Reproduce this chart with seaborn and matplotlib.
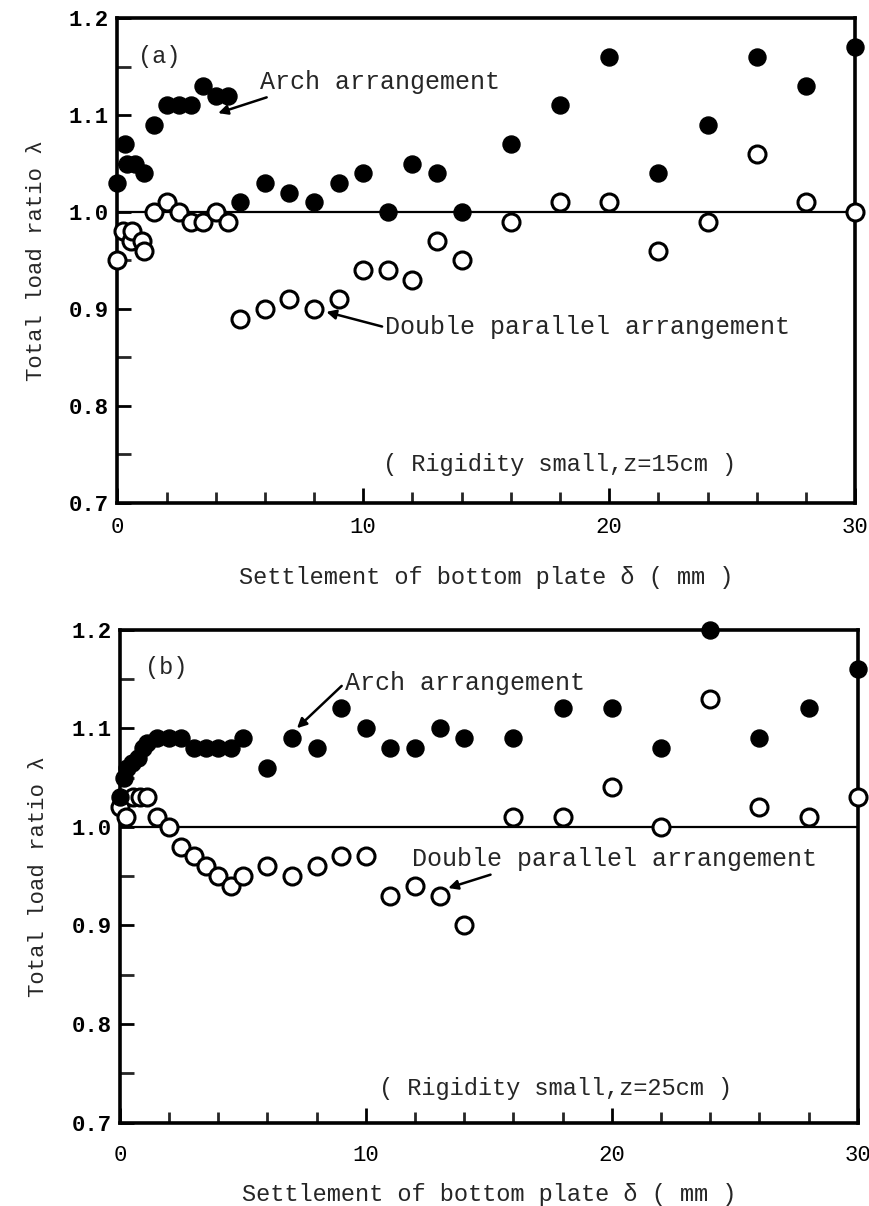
import numpy as np
import pandas as pd
import matplotlib
matplotlib.use("Agg")
import matplotlib.pyplot as plt
import seaborn as sns
from matplotlib.ticker import MultipleLocator

# ---------------- data ----------------
a_filled_x = [0, 0.3, 0.4, 0.7, 1.1, 1.5, 2.0, 2.5, 3.0, 3.5, 4.0, 4.5, 5, 6, 7, 8, 9, 10,
              11, 12, 13, 14, 16, 18, 20, 22, 24, 26, 28, 30]
a_filled_y = [1.03, 1.07, 1.05, 1.05, 1.04, 1.09, 1.11, 1.11, 1.11, 1.13, 1.12, 1.12, 1.01,
              1.03, 1.02, 1.01, 1.03, 1.04, 1.00, 1.05, 1.04, 1.00, 1.07, 1.11, 1.16, 1.04,
              1.09, 1.16, 1.13, 1.17]
a_open_x = [0, 0.25, 0.55, 0.6, 1.0, 1.1, 1.5, 2.0, 2.5, 3.0, 3.5, 4.0, 4.5, 5, 6, 7, 8, 9,
            10, 11, 12, 13, 14, 16, 18, 20, 22, 24, 26, 28, 30]
a_open_y = [0.95, 0.98, 0.97, 0.98, 0.97, 0.96, 1.00, 1.01, 1.00, 0.99, 0.99, 1.00, 0.99,
            0.89, 0.90, 0.91, 0.90, 0.91, 0.94, 0.94, 0.93, 0.97, 0.95, 0.99, 1.01, 1.01,
            0.96, 0.99, 1.06, 1.01, 1.00]

b_filled_x = [0, 0.15, 0.3, 0.5, 0.75, 0.95, 1.1, 1.5, 2.0, 2.5, 3.0, 3.5, 4.0, 4.5, 5, 6, 7,
              8, 9, 10, 11, 12, 13, 14, 16, 18, 20, 22, 24, 26, 28, 30]
b_filled_y = [1.03, 1.05, 1.06, 1.065, 1.07, 1.08, 1.085, 1.09, 1.09, 1.09, 1.08, 1.08, 1.08,
              1.08, 1.09, 1.06, 1.09, 1.08, 1.12, 1.10, 1.08, 1.08, 1.10, 1.09, 1.09, 1.12,
              1.12, 1.08, 1.20, 1.09, 1.12, 1.16]
b_open_x = [0, 0.25, 0.55, 0.8, 1.1, 1.5, 2.0, 2.5, 3.0, 3.5, 4.0, 4.5, 5, 6, 7, 8, 9, 10,
            11, 12, 13, 14, 16, 18, 20, 22, 24, 26, 28, 30]
b_open_y = [1.02, 1.01, 1.03, 1.03, 1.03, 1.01, 1.00, 0.98, 0.97, 0.96, 0.95, 0.94, 0.95,
            0.96, 0.95, 0.96, 0.97, 0.97, 0.93, 0.94, 0.93, 0.90, 1.01, 1.01, 1.04, 1.00,
            1.13, 1.02, 1.01, 1.03]

y_ticks = [0.7, 0.8, 0.9, 1.0, 1.1, 1.2]
x_ticks = [0, 10, 20, 30]
panel_labels = ["(a)", "(b)"]
conditions = ["( Rigidity small,z=15cm )", "( Rigidity small,z=25cm )"]
xlabel = "Settlement of bottom plate \u03b4 ( mm )"
ylabel = "Total load ratio \u03bb"

# ---------------- style ----------------
sns.set_style("ticks")
plt.rcParams["font.family"] = ["Liberation Mono", "DejaVu Sans Mono", "DejaVu Sans"]
plt.rcParams["axes.linewidth"] = 2.6

fig = plt.figure(figsize=(8.69, 12.06), dpi=100)
ax_a = fig.add_axes([0.135, 0.583, 0.849, 0.402])
ax_b = fig.add_axes([0.138, 0.069, 0.849, 0.409])

MS = 150


def draw_panel(ax, fx, fy, ox, oy, xpad, xlabpad):
    ax.axhline(1.0, color="black", lw=1.6, zorder=1)
    sns.scatterplot(x=ox, y=oy, ax=ax, marker="o", s=MS, facecolor="white",
                    edgecolor="black", linewidth=2.2, zorder=3)
    ax.collections[-1].set_clip_on(False)
    sns.scatterplot(x=fx, y=fy, ax=ax, marker="o", s=MS, color="black",
                    edgecolor="black", linewidth=1, zorder=4)
    ax.collections[-1].set_clip_on(False)
    ax.set_xlim(0, 30)
    ax.set_ylim(0.7, 1.2)
    ax.set_xticks(x_ticks)
    ax.set_yticks(y_ticks)
    ax.set_yticklabels([f"{v:.1f}" for v in y_ticks], fontweight="bold")
    ax.xaxis.set_minor_locator(MultipleLocator(2))
    ax.yaxis.set_minor_locator(MultipleLocator(0.05))
    ax.tick_params(axis="both", which="major", direction="in", length=11, width=2,
                   labelsize=16, color="black", labelcolor="black")
    ax.tick_params(axis="both", which="minor", direction="in", length=8, width=2)
    ax.tick_params(axis="y", which="both", length=10)
    ax.tick_params(axis="y", pad=6)
    ax.tick_params(axis="x", pad=xpad)
    ax.set_xlabel(xlabel, fontsize=17, labelpad=xlabpad)
    ax.set_ylabel(ylabel, fontsize=16, labelpad=16)
    for sp in ax.spines.values():
        sp.set_visible(True)
        sp.set_color("black")


draw_panel(ax_a, a_filled_x, a_filled_y, a_open_x, a_open_y, 10, 20)
draw_panel(ax_b, b_filled_x, b_filled_y, b_open_x, b_open_y, 16, 12)

TS = 18
arrow = dict(arrowstyle="-|>", color="black", lw=1.8, mutation_scale=14)

# panel (a)
ax_a.text(0.85, 1.16, panel_labels[0], fontsize=17, va="center", ha="left")
ax_a.annotate("Arch arrangement", xy=(4.1, 1.102), xytext=(5.8, 1.134),
              fontsize=TS, va="center", ha="left", arrowprops=dict(arrow, shrinkA=0, shrinkB=0,
              relpos=(0.07, 0.0)))
ax_a.annotate("Double parallel arrangement", xy=(8.5, 0.897), xytext=(10.9, 0.881),
              fontsize=TS, va="center", ha="left",
              arrowprops=dict(arrow, shrinkA=0, shrinkB=0, relpos=(0.0, 0.5)))
ax_a.text(18.0, 0.74, conditions[0], fontsize=17, va="center", ha="center")

# panel (b)
ax_b.text(1.0, 1.162, panel_labels[1], fontsize=17, va="center", ha="left")
ax_b.annotate("Arch arrangement", xy=(7.2, 1.10), xytext=(9.15, 1.146),
              fontsize=TS, va="center", ha="left",
              arrowprops=dict(arrow, shrinkA=0, shrinkB=0, relpos=(0.0, 0.5)))
ax_b.annotate("Double parallel arrangement", xy=(13.35, 0.938), xytext=(11.87, 0.967),
              fontsize=TS, va="center", ha="left",
              arrowprops=dict(arrow, shrinkA=0, shrinkB=0, relpos=(0.22, 0.0)))
ax_b.text(17.7, 0.735, conditions[1], fontsize=17, va="center", ha="center")

fig.savefig("out.png", dpi=100)
